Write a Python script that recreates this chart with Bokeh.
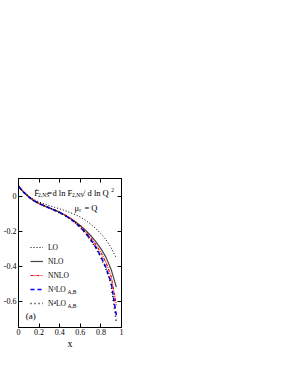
from bokeh.plotting import figure
from bokeh.models import (Range1d, LinearAxis, FixedTicker, Legend, LegendItem, Label,
                          CustomJSTickFormatter)
from bokeh.embed import file_html
from bokeh.resources import INLINE

# ---- data ----
x_vals = [0.0, 0.05, 0.1, 0.15, 0.2, 0.25, 0.3, 0.35, 0.4, 0.45, 0.5,
          0.55, 0.6, 0.65, 0.7, 0.75, 0.8, 0.85, 0.9, 0.95]
lo = [0.055, 0.024, 0.0, -0.02, -0.034, -0.045, -0.055, -0.064, -0.073, -0.083, -0.094,
      -0.106, -0.12, -0.138, -0.16, -0.185, -0.215, -0.25, -0.295, -0.355]
nlo = [0.055, 0.022, -0.005, -0.027, -0.043, -0.056, -0.068, -0.080, -0.093, -0.108, -0.125,
       -0.145, -0.168, -0.195, -0.225, -0.26, -0.30, -0.35, -0.42, -0.52]
nnlo = [0.055, 0.022, -0.005, -0.027, -0.043, -0.056, -0.068, -0.080, -0.093, -0.109, -0.127,
        -0.148, -0.173, -0.203, -0.237, -0.277, -0.322, -0.38, -0.46, -0.62]
n3lo = [0.055, 0.022, -0.005, -0.027, -0.043, -0.056, -0.068, -0.081, -0.094, -0.110, -0.129,
        -0.151, -0.178, -0.21, -0.248, -0.292, -0.345, -0.41, -0.495, -0.68]
n4lo = [0.055, 0.022, -0.005, -0.027, -0.043, -0.056, -0.068, -0.081, -0.095, -0.111, -0.130,
        -0.152, -0.179, -0.212, -0.25, -0.295, -0.35, -0.415, -0.505, -0.72]

x_ticks = [0, 0.2, 0.4, 0.6, 0.8, 1.0]
x_tick_labels = ["0", "0.2", "0.4", "0.6", "0.8", "1"]
y_ticks = [-0.6, -0.4, -0.2, 0.0]
y_tick_labels = ["-0.6", "-0.4", "-0.2", "0"]

FONT = "Liberation Serif"

p = figure(width=125, height=351, output_backend="svg", toolbar_location=None,
           x_range=Range1d(0, 1), y_range=Range1d(-0.75, 0.1),
           x_axis_location=None, y_axis_location=None,
           min_border_top=178, min_border_left=0, min_border_right=4, min_border_bottom=0)
p.xgrid.visible = False
p.ygrid.visible = False
p.outline_line_color = "black"
p.outline_line_width = 1
p.background_fill_color = "white"
p.border_fill_color = "white"

def style_axis(ax, ticks, labels, show_labels):
    ax.ticker = FixedTicker(ticks=ticks, num_minor_ticks=4)
    ax.major_tick_in = 4
    ax.major_tick_out = 0
    ax.minor_tick_in = 2
    ax.minor_tick_out = 0
    ax.axis_line_color = "black"
    ax.major_tick_line_color = "black"
    ax.minor_tick_line_color = "black"
    if show_labels:
        ax.major_label_overrides = {t: l for t, l in zip(ticks, labels)}
        ax.major_label_text_font = FONT
        ax.major_label_text_font_size = "8px"
        ax.major_label_text_color = "black"
        ax.major_label_standoff = 2
    else:
        ax.formatter = CustomJSTickFormatter(code="return ''")
        ax.major_label_standoff = 0

xb = LinearAxis(axis_label="x", axis_label_text_font=FONT, axis_label_text_font_size="10px",
                axis_label_text_font_style="normal", axis_label_text_color="black",
                axis_label_standoff=0)
style_axis(xb, x_ticks, x_tick_labels, True)
xb.major_label_standoff = 1
p.add_layout(xb, "below")
yl = LinearAxis()
style_axis(yl, y_ticks, y_tick_labels, True)
p.add_layout(yl, "left")
xt = LinearAxis()
style_axis(xt, x_ticks, x_tick_labels, False)
p.add_layout(xt, "above")
yr = LinearAxis()
style_axis(yr, y_ticks, y_tick_labels, False)
p.add_layout(yr, "right")

r_lo = p.line(x_vals, lo, line_color="black", line_width=1, line_dash="1 2")
r_nlo = p.line(x_vals, nlo, line_color="#444444", line_width=1.2)
r_nnlo = p.line(x_vals, nnlo, line_color="red", line_width=1.2, line_dash="3 1 1 1")
r_n3 = p.line(x_vals, n3lo, line_color="blue", line_width=1.6, line_dash="4 3")
r_n4 = p.line(x_vals, n4lo, line_color="black", line_width=1.6, line_dash="1 3")

legend = Legend(items=[LegendItem(label="LO", renderers=[r_lo]),
                       LegendItem(label="NLO", renderers=[r_nlo]),
                       LegendItem(label="NNLO", renderers=[r_nnlo]),
                       LegendItem(label="N\u00b3LO", renderers=[r_n3]),
                       LegendItem(label="N\u2074LO", renderers=[r_n4])],
                location=(12, 17), padding=2, spacing=0, margin=0,
                label_height=14, glyph_height=14, glyph_width=13, label_standoff=5,
                label_text_font=FONT, label_text_font_size="7.5px", label_text_color="black",
                border_line_color=None, background_fill_alpha=0)
p.add_layout(legend, "center")

def lab(text, x, y, size, **kw):
    p.add_layout(Label(x=x, y=y, text=text, text_font=FONT, text_font_size=size,
                       text_color="black", text_baseline="alphabetic", **kw))

# title formula
lab("\u1e1e", 0.152, 0.02, "8.5px")
lab("2,NS", 0.19, 0.005, "5.5px")
lab("=", 0.28, 0.02, "8.5px")
lab("d ln F", 0.33, 0.02, "8.5px")
lab("2,NS", 0.52, 0.005, "5.5px")
lab("/", 0.625, 0.02, "8.5px")
lab("d ln Q", 0.67, 0.02, "8.5px")
lab("2", 0.9, 0.035, "5.5px")
lab("\u03bc", 0.543, -0.07, "8.5px")
lab("r", 0.59, -0.08, "5.5px")
lab("= Q", 0.64, -0.07, "8.5px")
# legend subscripts
lab("A,B", 0.476, -0.548, "5.5px")
lab("A,B", 0.476, -0.628, "5.5px")
lab("(a)", 0.07, -0.685, "9px")

open("out.html", "w").write(file_html(p, INLINE))
